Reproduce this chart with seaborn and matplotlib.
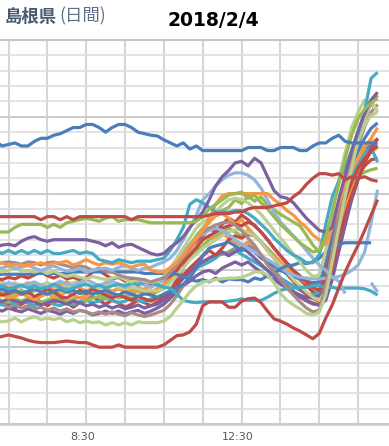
import numpy as np
import pandas as pd
import matplotlib
matplotlib.use("Agg")
import matplotlib.pyplot as plt
import seaborn as sns
from matplotlib.transforms import ScaledTranslation
from matplotlib.ticker import MultipleLocator, FixedLocator

sns.set_theme(style="white")
plt.rcParams['font.family'] = ['DejaVu Sans']

nan = np.nan
start_hour = 6 + 10 / 60
step_hours = 10 / 60
n_points = 60
hours = [start_hour + k * step_hours for k in range(n_points)]

tick_hours = [8.5, 12.5]
tick_labels = ["8:30", "12:30"]

BLUE = "#4A7EBB"; RED = "#BE4B48"; GREEN = "#98B954"; PURPLE = "#7D60A0"
TEAL = "#46AAC5"; ORANGE = "#F79646"; LBLUE = "#93B4DC"; LGREEN = "#B9D08E"; ROSY = "#A98A86"

blue_top = [18.4,18.1,18.2,18.3,18.1,18.1, 18.4,18.6,18.6,18.8,18.9,19.1, 19.3,19.3,19.5,19.5,19.3,19.0,
            19.3,19.5,19.5,19.3,19.0,18.9, 18.8,18.75,18.5,18.3,18.1,18.3, 17.9,18.1,17.8,17.8,17.8,17.8,
            17.8,17.8,17.8,18.0,18.0,18.0, 17.8,17.8,18.0,18.0,18.0,17.8, 17.8,18.1,18.3,18.3,18.6,18.8,
            18.4,18.3,18.3,18.3,18.3,18.2]
red_top = [13.5,13.5,13.5,13.5,13.5,13.5, 13.5,13.3,13.5,13.5,13.3,13.5, 13.3,13.5,13.5,13.5,13.5,13.5,
           13.5,13.5,13.5,13.3,13.5,13.5, 13.5,13.5,13.5,13.5,13.5,13.5, 13.5,13.5,13.5,13.6,13.7,13.7,
           13.7,13.8,13.8,14.0,14.1,14.1, 14.1,14.2,14.3,14.4,14.8,15.1, 15.6,16.0,16.3,16.3,16.2,16.3,
           15.9,16.1,16.0,16.1,15.9,15.8]
green_top = [12.5,12.5,12.5,12.8,13.0,13.0, 13.0,13.0,12.8,13.0,12.8,13.1, 13.2,13.3,13.4,13.3,13.2,13.4,
             13.5,13.2,13.3,13.3,13.3,13.2, 13.1,13.1,13.1,13.1,13.1,13.1, 13.1,13.2,13.5,14.0,14.3,14.6,
             14.9,15.0,15.1,14.7,14.9,14.4, 14.0,13.5,13.0,12.6,12.2,11.8, 11.5,11.2,11.3,12.2,13.8,15.6,
             17.3,18.8,19.9,20.5,20.9,21.2]
purple_top = [11.5,11.65,11.7,11.6,11.9,12.1, 12.2,12.0,11.9,12.0,12.0,12.0, 12.0,12.0,12.0,11.9,11.8,11.6,
              11.8,11.5,11.65,11.7,11.5,11.3, 11.1,11.0,11.1,11.5,11.8,12.2, 12.8,13.3,13.8,14.6,15.5,16.1,
              16.5,17.0,17.1,16.8,17.3,17.0, 16.1,15.2,14.8,14.7,14.4,13.9, 13.4,13.0,12.6,12.5,12.8,14.6,
              16.2,17.8,19.1,20.2,21.1,21.6]
teal_top = [11.3,11.1,11.3,11.1,11.3,11.1, 11.3,11.1,11.3,11.1,11.1,11.2, 11.3,11.1,11.2,11.1,10.7,10.6,
            10.5,10.7,10.6,10.5,10.6,10.6, 10.6,10.7,10.8,11.3,12.0,12.8, 14.3,14.6,14.4,14.1,13.8,13.8,
            13.8,13.9,13.9,13.7,13.4,13.0, 12.6,12.1,11.7,11.3,11.0,10.8, 10.5,10.5,11.0,13.0,14.8,15.8,
            16.7,17.8,18.9,20.4,22.5,22.9]
orange_top = [10.4,10.5,10.3,10.4,10.35,10.3, 10.4,10.5,10.35,10.5,10.5,10.6, 10.35,10.5,10.7,10.5,10.35,10.5,
              10.4,10.5,10.35,10.2,10.35,10.4, 10.0,9.9,9.9,10.2,10.5,11.0, 11.6,12.1,12.6,13.4,14.3,14.85,
              15.0,15.0,15.0,15.0,15.0,15.0, 15.0,14.6,14.3,13.9,13.6,13.15, 12.8,12.3,12.0,11.7,12.8,14.3,
              15.6,16.5,17.3,18.0,18.6,19.3]
rosy_a = [10.35,10.5,10.55,10.5,10.4,10.55, 10.5,10.35,10.5,10.55,10.4,10.3, 10.15,10.3,10.2,10.0,10.15,9.95,
          9.9,9.7,9.55,9.5,9.45,9.4, 9.25,9.4,9.5,9.9,10.35,10.9, 11.45,12.0,12.5,12.75,12.95,13.1,
          13.15,12.95,12.6,12.1,11.65,11.0, 10.35,9.9,9.4,8.85,8.4,7.95, 7.55,7.3,7.4,9.05,11.3,13.6,
          15.55,17.2,18.6,19.9,20.9,21.4]
lblue_a = [10.2,10.15,10.3,10.15,10.2,10.35, 10.15,10.0,10.15,10.3,10.1,9.95, 10.0,10.15,9.9,10.0,10.1,10.15,
           10.0,10.2,10.3,10.15,10.0,10.15, 10.2,10.4,10.55,10.8,11.3,12.0, 12.75,13.6,14.6,15.0,15.5,15.9,
           16.2,16.35,16.35,16.2,15.9,15.35, 14.6,13.8,13.15,12.7,12.25,11.8, 11.3,10.8,10.35,10.0,9.55,9.3,
           8.5,nan,nan,nan,9.2,8.6]
lgreen_a = [10.0,9.9,10.0,10.15,9.95,10.0, 9.9,10.0,9.8,9.95,9.75,9.6, 9.7,9.55,9.45,9.6,9.5,9.4,
            9.5,9.6,9.4,9.25,9.45,9.3, 9.2,9.3,9.6,10.15,10.8,11.45, 12.1,12.75,13.15,13.4,13.8,14.25,
            14.6,14.7,14.6,14.4,14.05,13.65, 13.15,12.6,12.1,11.6,11.05,10.55, 10.0,9.6,9.7,11.3,13.8,15.9,
            17.7,19.3,20.3,21.1,20.8,20.4]
blue_flat = [9.7,9.75,9.75,9.75,9.75,9.75, 9.8,9.8,9.8,9.8,9.8,9.8, 9.9,9.9,9.9,9.9,9.9,9.9,
             9.9,9.9,9.9,9.9,9.9,9.8, 9.8,9.8,9.8,9.8,9.75,9.6, 9.4,9.3,9.4,9.25,9.5,9.25,
             9.45,9.4,9.4,9.25,9.5,9.4, 9.65,9.8,10.1,10.3,10.35,10.5, 10.45,10.55,10.8,11.2,11.5,11.7,
             11.8,11.8,11.8,11.8,11.8,nan]
red_b = [9.5,9.4,9.55,9.45,9.65,9.5, 9.7,9.9,9.65,9.5,9.7,9.45, 9.55,9.4,9.5,9.9,10.0,9.7,
         9.45,9.55,9.3,9.45,9.2,9.3, 9.1,9.25,9.4,9.65,10.0,10.55, 11.0,11.45,12.0,12.25,12.5,12.75,
         12.9,13.0,12.9,13.15,12.95,12.5, 12.0,11.45,10.95,10.5,10.0,9.65, 9.25,8.9,8.7,9.7,11.45,13.15,
         14.6,15.75,16.65,17.3,17.8,18.1]
lgreen_b = [9.1,9.25,9.05,9.2,9.0,9.1, 8.9,9.05,9.2,9.0,8.9,9.05, 9.2,9.3,9.1,9.0,8.85,9.0,
            9.1,8.9,8.8,8.9,8.8,8.65, 8.7,8.65,8.85,9.2,9.65,10.15, 10.7,11.05,11.45,11.7,12.0,12.25,
            12.5,12.65,12.65,12.45,12.25,11.85, 11.3,10.8,10.35,9.9,9.4,9.0, 8.6,8.25,8.05,8.7,10.8,13.3,
            15.25,17.05,18.5,19.45,20.1,20.3]
teal_low = [8.85,9.0,8.8,8.9,9.05,8.85, 9.0,8.8,8.9,9.1,8.9,8.7, 8.85,9.0,9.1,8.9,9.05,8.85,
            9.0,9.1,9.0,9.2,9.05,9.25, 9.2,9.05,8.9,8.85,8.45,8.05, 7.95,7.9,7.95,7.95,7.95,7.95,
            8.0,8.05,8.15,8.05,8.05,8.05, 8.25,8.5,8.7,8.8,8.85,8.9, 8.9,9.0,9.0,8.9,8.9,8.8,
            8.85,8.85,8.85,8.8,8.65,8.4]
blue_b = [8.65,8.8,8.6,8.7,8.5,8.65, 8.8,8.6,8.45,8.65,8.8,8.6, 8.7,8.5,8.65,8.45,8.6,8.7,
          8.5,8.4,8.6,8.45,8.3,8.5, 8.4,8.25,8.45,8.6,8.85,9.1, 9.5,10.15,10.95,11.45,11.6,11.7,
          11.85,11.6,11.3,11.5,11.2,10.8, 10.55,10.3,10.0,9.8,9.6,9.45, 9.3,9.2,9.25,10.35,12.1,13.95,
          15.5,16.8,17.8,18.6,19.25,19.6]
red_c = [8.6,8.4,8.5,8.7,8.45,8.6, 8.3,8.5,8.8,8.6,8.3,8.2, 8.45,8.7,8.5,8.8,8.6,8.4,
         8.2,8.4,8.25,8.05,8.3,8.15, 8.0,8.2,8.3,8.6,9.1,9.7, 10.15,10.55,10.95,11.3,11.0,11.45,
         12.0,12.25,12.1,12.35,12.25,11.85, 11.3,10.8,10.3,9.75,9.3,8.85, 8.45,8.2,8.0,8.6,10.15,12.0,
         13.6,14.9,16.0,17.0,17.8,18.6]
orange_b = [8.25,8.4,8.2,8.3,8.5,8.3, 8.1,8.3,8.5,8.25,8.4,8.6, 8.4,8.2,8.3,8.5,8.65,8.45,
            8.65,8.8,8.6,8.7,8.9,8.7, 8.6,8.8,9.05,9.5,10.15,10.95, 11.65,12.1,12.6,13.15,13.55,13.7,
            13.4,13.0,13.3,12.75,12.3,11.85, 11.3,10.95,10.55,10.15,9.75,9.45, 9.2,9.05,9.2,10.55,12.5,14.25,
            15.75,16.85,17.7,18.1,18.35,18.5]
purple_b = [8.05,7.95,8.15,8.0,7.9,8.05, 7.95,7.75,7.9,8.05,7.95,7.8, 8.0,7.9,7.7,7.8,7.6,7.75,
            7.55,7.7,7.5,7.6,7.75,7.55, 7.7,7.8,8.05,8.45,9.0,9.5, 9.9,10.3,10.55,10.8,11.0,11.2,
            10.95,11.2,11.45,11.2,10.8,10.4, 10.0,9.65,9.25,8.9,8.6,8.3, 8.05,7.85,7.75,8.05,9.4,11.2,
            12.95,14.6,15.9,17.05,18.0,18.6]
green_b = [8.2,8.05,7.95,8.15,8.0,8.2, 8.05,7.95,8.05,8.25,8.05,7.95, 8.15,8.25,8.05,8.2,8.3,8.15,
           8.25,8.4,8.25,8.45,8.3,8.5, 8.4,8.6,8.85,9.4,10.0,10.8, 11.6,12.25,12.75,13.15,13.6,13.9,
           14.1,14.6,14.35,14.85,14.5,14.8, 14.25,13.95,13.65,13.4,13.15,12.9, 12.3,11.65,11.2,12.0,13.15,14.25,
           15.1,15.7,16.15,16.4,16.55,16.65]
teal_c = [7.9,7.75,7.95,7.8,8.0,7.9, 7.7,7.9,8.0,7.8,7.7,7.9, 7.75,7.95,8.05,7.9,8.0,8.2,
          8.05,7.9,8.0,8.2,8.05,7.95, 8.15,8.25,8.45,8.7,9.05,9.5, 9.9,10.15,10.35,10.55,10.8,11.2,
          11.0,11.3,11.05,10.8,10.55,10.3, 10.0,9.75,9.5,9.25,9.0,8.7, 8.5,8.4,8.6,10.0,11.85,13.6,
          14.9,16.0,17.0,17.7,18.0,17.05]
rosy_b = [7.7,7.8,7.6,7.75,7.55,7.7, 7.5,7.6,7.4,7.55,7.35,7.5, 7.3,7.4,7.3,7.15,7.3,7.15,
          7.3,7.15,7.05,7.25,7.1,7.0, 7.1,7.25,7.4,7.8,8.35,9.0, 9.65,10.15,10.55,10.8,10.95,11.05,
          11.2,11.45,11.3,11.6,11.45,10.95, 10.55,10.0,9.5,9.05,8.6,8.25, 8.0,7.8,7.75,8.7,10.8,12.95,
          14.9,16.65,18.15,19.35,20.3,20.8]
purple_c = [7.5,7.35,7.55,7.4,7.3,7.5, 7.35,7.2,7.4,7.3,7.15,7.35, 7.2,7.4,7.3,7.1,7.2,7.35,
            7.2,7.35,7.15,7.3,7.4,7.2, 7.35,7.55,7.8,8.2,8.6,9.0, 9.3,9.65,9.9,10.0,9.8,10.15,
            10.35,10.55,10.35,10.55,10.2,9.9, 9.6,9.4,9.1,8.85,8.6,8.4, 8.25,8.2,8.45,9.5,11.3,13.15,
            14.7,16.0,17.05,17.8,18.35,18.5]
lgreen_c = [6.8,6.65,6.7,6.9,6.65,6.85, 7.0,6.8,6.9,6.8,6.9,6.65, 6.8,6.6,6.7,6.6,6.65,6.45,
            6.6,6.45,6.6,6.45,6.65,6.6, 6.6,6.6,6.7,7.0,7.55,8.05, 8.6,9.0,9.25,9.3,9.4,9.45,
            9.5,9.5,9.55,9.7,9.9,9.9, 9.7,9.2,8.5,8.05,7.75,7.5, 7.2,7.1,7.3,8.4,10.55,12.75,
            14.85,16.65,18.5,19.9,21.1,20.3]
red_low = [5.6,5.7,5.8,5.7,5.6,5.45, 5.35,5.3,5.3,5.3,5.35,5.4, 5.35,5.3,5.3,5.15,5.0,5.0,
           5.0,5.15,5.0,5.0,5.0,5.0, 5.0,5.0,5.15,5.45,5.75,5.8, 6.0,6.5,7.7,7.95,7.95,7.95,
           7.6,7.6,8.0,8.15,8.2,7.9, 7.35,6.85,6.7,6.5,6.25,6.05, 5.8,5.55,5.9,6.9,7.75,8.85,
           9.9,10.8,11.65,12.6,13.6,14.6]
orange_c = [9.0,9.1,8.9,8.8,9.0,9.2, 9.05,8.85,8.7,8.9,9.1,9.25, 9.05,8.85,8.65,8.85,9.05,8.85,
            8.65,8.8,9.0,8.8,8.6,8.8, 9.0,9.2,9.4,9.75,10.3,10.8, 11.2,11.6,12.0,12.25,12.0,12.4,
            12.1,11.85,11.6,11.85,11.45,11.05, 10.55,10.0,9.5,9.05,8.65,8.3, 8.05,7.9,7.8,8.6,10.3,12.1,
            13.8,15.25,16.4,17.2,17.7,18.0]
lblue_b = [9.1,9.0,9.2,9.05,8.9,9.1, 9.25,9.05,8.9,9.1,9.3,9.1, 9.0,9.2,9.4,9.2,9.0,9.2,
           9.3,9.1,8.9,9.1,9.25,9.05, 8.9,9.1,9.4,9.9,10.55,11.2, 11.7,12.1,12.35,12.6,12.75,12.6,
           12.35,12.0,11.7,11.45,11.2,10.95, 10.7,10.45,10.15,9.9,9.7,9.55, 9.5,9.45,9.45,9.5,9.55,9.6,
           9.75,10.0,10.35,11.2,13.1,15.25]
red_d = [7.8,8.0,7.75,7.55,7.8,8.0, 8.2,7.95,7.7,7.95,8.15,7.9, 7.6,7.9,8.05,8.3,8.05,7.8,
         8.05,7.9,7.6,7.8,8.05,7.9, 7.7,7.95,8.2,8.7,9.4,10.15, 10.95,11.65,12.25,12.75,12.5,13.0,
         13.4,13.15,13.6,13.3,12.9,12.5, 12.0,11.45,10.95,10.45,9.9,9.4, 9.0,8.6,8.3,8.85,10.4,12.25,
         13.8,15.1,16.15,16.8,17.2,17.3]
green_c = [8.45,8.6,8.4,8.5,8.7,8.5, 8.65,8.85,8.65,8.45,8.65,8.85, 8.7,8.5,8.4,8.6,8.45,8.25,
           8.4,8.2,8.3,8.5,8.65,8.45, 8.6,8.8,9.1,9.65,10.15,10.55, 10.95,11.3,11.6,12.0,12.25,12.5,
           12.75,12.5,12.25,12.6,12.25,11.85, 11.45,11.0,10.55,10.15,9.75,9.4, 9.0,8.7,8.7,9.6,11.45,13.3,
           14.85,16.0,16.95,17.5,17.85,18.05]

series = [
    (green_c, GREEN), (red_d, RED), (orange_c, ORANGE), (purple_c, PURPLE), (rosy_b, ROSY),
    (teal_c, TEAL), (green_b, GREEN), (purple_b, PURPLE), (orange_b, ORANGE), (red_c, RED),
    (blue_b, BLUE), (lgreen_b, LGREEN), (red_b, RED), (lblue_b, LBLUE), (teal_low, TEAL),
    (blue_flat, BLUE), (lgreen_a, LGREEN), (rosy_a, ROSY), (lblue_a, LBLUE), (orange_top, ORANGE),
    (lgreen_c, LGREEN), (teal_top, TEAL), (purple_top, PURPLE), (green_top, GREEN),
    (red_top, RED), (red_low, RED), (blue_top, BLUE),
]

W, H = 389, 446
fig = plt.figure(figsize=(W / 100, H / 100), dpi=100)
ax = fig.add_axes([0, 22 / H, 1, 384 / H])

for vals, col in series:
    df = pd.DataFrame({"hour": hours, "value": vals})
    df["run"] = df["value"].isna().cumsum()
    df = df.dropna()
    for _, part in df.groupby("run"):
        sns.lineplot(data=part, x="hour", y="value", ax=ax, color=col, lw=2.3,
                     estimator=None, sort=False, legend=False,
                     solid_joinstyle="round", solid_capstyle="butt")

ax.set_xlim(6.281, 16.294)
ax.set_ylim(0, 25)
ax.set_xlabel("")
ax.set_ylabel("")
ax.xaxis.set_major_locator(FixedLocator(tick_hours))
ax.set_xticklabels(tick_labels)
ax.xaxis.set_minor_locator(MultipleLocator(1, offset=0.5))
ax.yaxis.set_major_locator(MultipleLocator(5))
ax.yaxis.set_minor_locator(MultipleLocator(1))
ax.set_yticklabels([])
ax.set_axisbelow(True)
ax.grid(which="both", axis="x", color="#D6D6D6", lw=1.5)
ax.grid(which="minor", axis="y", color="#DEDEDE", lw=1.2)
ax.grid(which="major", axis="y", color="#CACACA", lw=1.4)
ax.tick_params(which="both", length=0)
ax.tick_params(axis="x", labelsize=8, labelcolor="#595959", pad=6)
for lab in ax.get_xticklabels():
    lab.set_transform(lab.get_transform() + ScaledTranslation(-4 / 100, 0, fig.dpi_scale_trans))

for side in ["left", "right"]:
    ax.spines[side].set_visible(False)
ax.spines["top"].set_color("#C6C6C6")
ax.spines["top"].set_linewidth(1.5)
ax.spines["bottom"].set_color("#C3CEDA")
ax.spines["bottom"].set_linewidth(1.8)

fig.text(5 / W, 1 - 16.5 / H, "島根県", family=["Noto Sans CJK JP", "DejaVu Sans"],
         fontweight="bold", fontsize=12.5, color="#475A72", ha="left", va="center")
fig.text(59 / W, 1 - 16.5 / H, "(日間)", family=["Noto Sans CJK JP", "DejaVu Sans"],
         fontsize=12.5, color="#5C6F87", ha="left", va="center")
fig.text(213 / W, 1 - 20 / H, "2018/2/4", fontweight="bold", fontsize=13.5,
         color="black", ha="center", va="center")

fig.savefig("out.png", dpi=100)
